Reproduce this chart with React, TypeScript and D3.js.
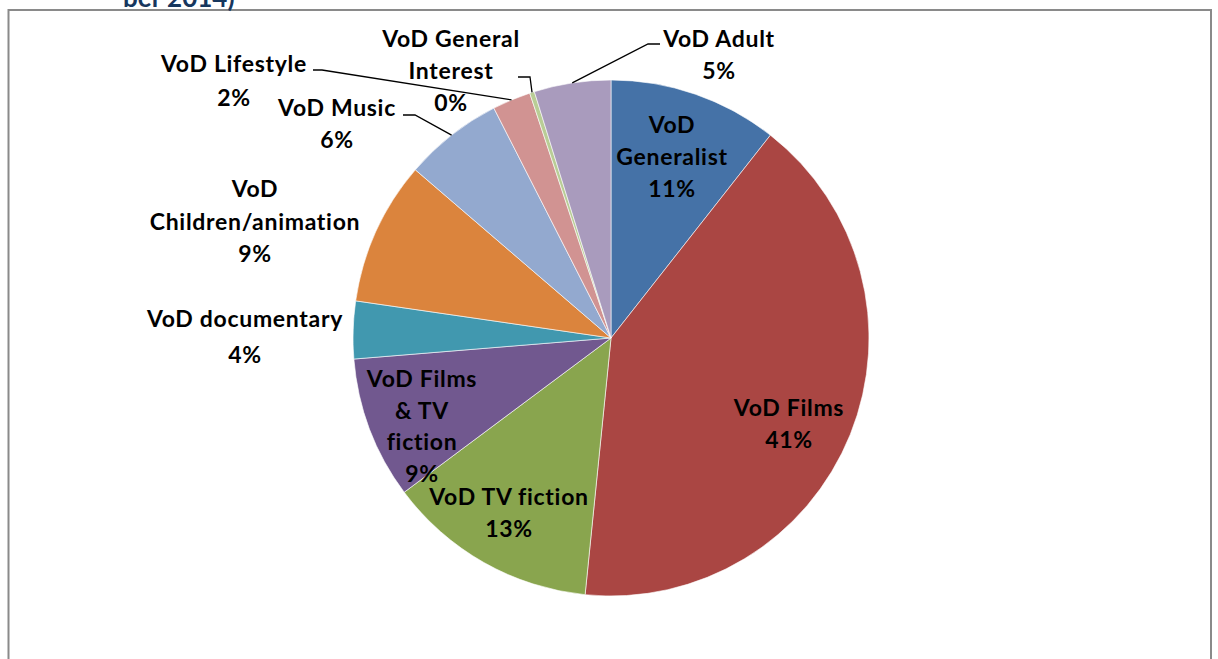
import React, { useEffect, useRef } from 'react';
import * as d3 from 'd3';

// slices, clockwise from 12 o'clock
const categories = [
    'VoD Generalist', 'VoD Films', 'VoD TV fiction', 'VoD Films & TV fiction',
    'VoD documentary', 'VoD Children/animation', 'VoD Music', 'VoD Lifestyle',
    'VoD General Interest', 'VoD Adult'
];
const shares = [10.6, 41.0, 13.2, 8.9, 3.6, 9.0, 6.2, 2.4, 0.3, 4.8];
const colors = [
    '#4572A7', '#AA4643', '#89A54E', '#71588F', '#4198AF',
    '#DB843D', '#93A9CF', '#D19392', '#B9CD96', '#A99BBD'
];
// how the label text is broken over lines
const labelLines = [
    ['VoD', 'Generalist'],
    ['VoD Films'],
    ['VoD TV fiction'],
    ['VoD Films', '& TV', 'fiction'],
    ['VoD documentary'],
    ['VoD', 'Children/animation'],
    ['VoD Music'],
    ['VoD Lifestyle'],
    ['VoD General', 'Interest'],
    ['VoD Adult']
];

// layout: label centre (first line) and leader elbow, if any
const labelAt = [
    [672, 124], [789, 407], [509, 496], [422, 378], [245, 318],
    [255, 188], [337, 107], [234, 63], [451, 38], [719, 38]
];
const lineGap = [32, 32, 32, 31.5, 36, 32.5, 32, 34, 32, 32];
const leaders = {
    6: [[403, 115], [415, 115]],
    7: [[313, 70], [322, 70]],
    8: [[518, 77], [530, 77]],
    9: [[660, 44], [648, 44]]
};

function App() {
    const ref = useRef(null);

    useEffect(() => {
        const svg = d3.select(ref.current);
        svg.selectAll('*').remove();

        const cx = 611, cy = 338, r = 258;
        const font = 'Lato, "Open Sans", sans-serif';

        // frame of the chart area
        svg.append('rect')
            .attr('x', 8.5).attr('y', 10)
            .attr('width', 1202.5).attr('height', 700)
            .attr('fill', '#fff')
            .attr('stroke', '#8a8a8a')
            .attr('stroke-width', 2);

        // tail of the title above the frame
        svg.append('text')
            .attr('x', 123).attr('y', 7)
            .attr('font-family', font)
            .attr('font-weight', 'bold')
            .attr('font-size', 26)
            .attr('fill', '#17375E')
            .text('ber 2014)');

        const pie = d3.pie().sort(null).value(d => d);
        const arcs = pie(shares);

        const arc = d3.arc().innerRadius(0).outerRadius(r);
        const rim = d3.arc().innerRadius(r).outerRadius(r);

        const g = svg.append('g').attr('transform', `translate(${cx},${cy})`);

        g.selectAll('path')
            .data(arcs)
            .enter()
            .append('path')
            .attr('d', arc)
            .attr('fill', (d, i) => colors[i])
            .attr('stroke', '#fff')
            .attr('stroke-width', 0.6);

        // leader lines for the small slices
        Object.keys(leaders).forEach(k => {
            const i = +k;
            const [ex, ey] = rim.centroid(arcs[i]);
            const pts = leaders[i].concat([[ex + cx, ey + cy]]);
            svg.append('path')
                .attr('d', d3.line()(pts))
                .attr('fill', 'none')
                .attr('stroke', '#000')
                .attr('stroke-width', 1.3);
        });

        const pct = d3.format('.0f');

        categories.forEach((c, i) => {
            const lines = labelLines[i].concat([pct(shares[i]) + '%']);
            const [lx, ly] = labelAt[i];
            const t = svg.append('text')
                .attr('font-family', font)
                .attr('font-weight', 'bold')
                .attr('font-size', 23)
                .attr('letter-spacing', 0.7)
                .attr('text-anchor', 'middle')
                .attr('fill', '#000');
            lines.forEach((s, j) => {
                t.append('tspan')
                    .attr('x', lx)
                    .attr('y', ly + j * lineGap[i])
                    .attr('dominant-baseline', 'central')
                    .text(s);
            });
        });
    }, []);

    return (
        <svg ref={ref} width="1218" height="659"
            style={{ position: 'absolute', left: 0, top: 0, display: 'block' }}>
        </svg>
    );
}

export default App;
